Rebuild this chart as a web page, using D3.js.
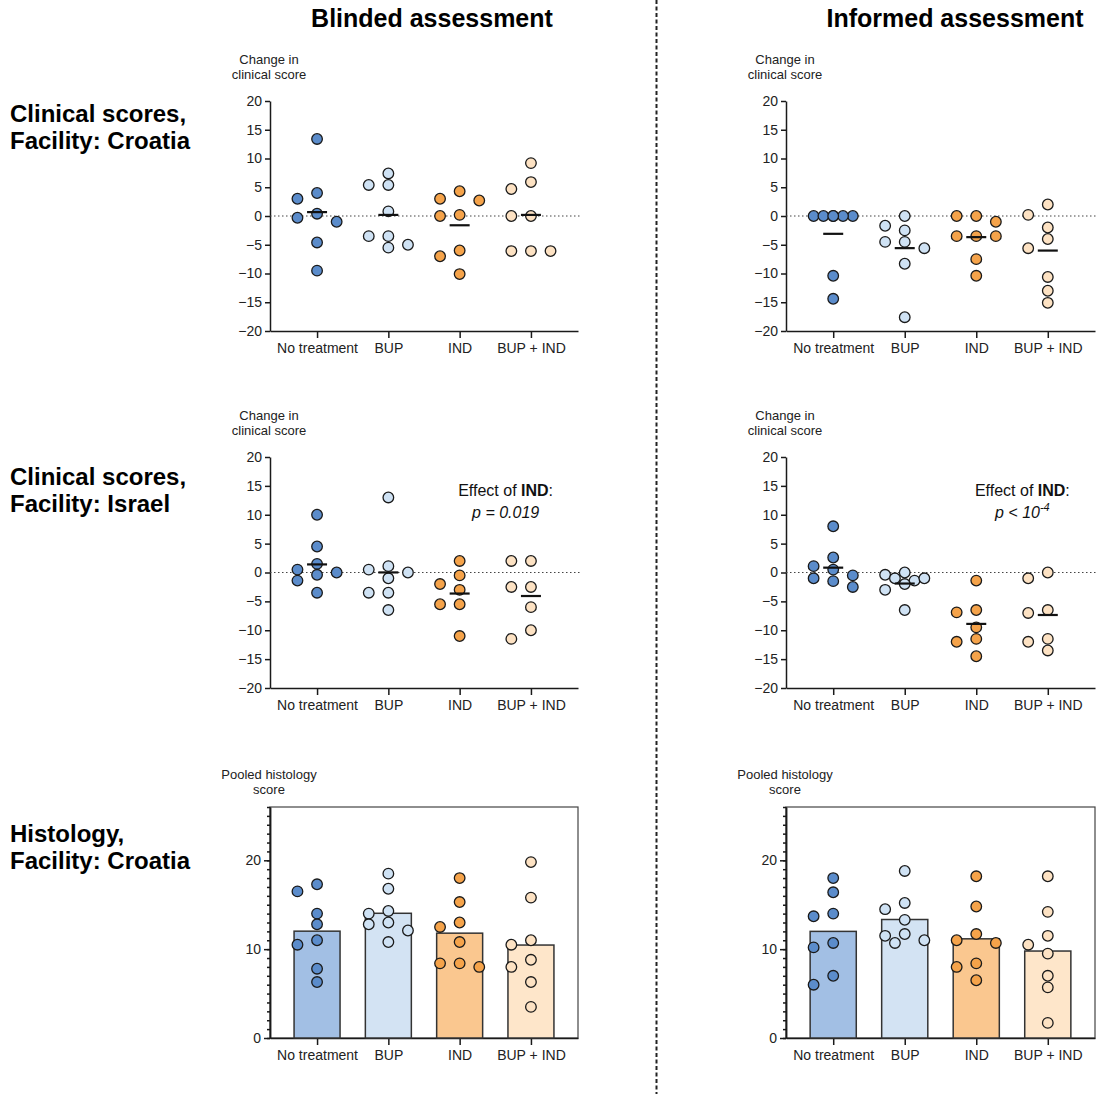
<!DOCTYPE html>
<html lang="en">
<head>
  <meta charset="UTF-8" />
  <title>Clinical and histology scores</title>
  <script src="https://d3js.org/d3.v7.min.js"></script>
  <style>
    body { margin: 0; background: #fff; font-family: "Liberation Sans", Arial, sans-serif; }
    svg { display: block; }
    .axis path, .axis line { stroke: #1a1a1a; stroke-width: 1.5px; }
    .axis text { font-size: 14px; fill: #222; font-family: "Liberation Sans", Arial, sans-serif; }
    .dot { stroke: #1a1a1a; stroke-width: 1.3px; }
    .bar { stroke: #333; stroke-width: 1.5px; }
  </style>
</head>
<body>
  <svg id="chart"></svg>
  <script>
    // ---- data ----
    const groups = ["No treatment", "BUP", "IND", "BUP + IND"];
    const scoreTicks = [-20, -15, -10, -5, 0, 5, 10, 15, 20];
    const histTicks = [0, 10, 20];
    const colTitles = ["Blinded assessment", "Informed assessment"];
    const rowTitles = [
      ["Clinical scores,", "Facility: Croatia"],
      ["Clinical scores,", "Facility: Israel"],
      ["Histology,", "Facility: Croatia"]
    ];

    // change in clinical score, Croatia
    const croatiaBlinded = [
      [-0.3, 13.4, 3.0, 0.4, 4.0, -1.0, -4.6, -9.5],
      [7.4, 5.4, 5.4, 0.8, -3.5, -5.5, -3.5, -5.0],
      [3.0, 2.7, 4.3, 0.2, 0, -7.0, -6.0, -10.1],
      [9.2, 4.7, 5.9, 0, 0, -6.1, -6.1, -6.1]
    ];
    const croatiaInformed = [
      [0, 0, 0, 0, 0, 0, -10.4, -14.4],
      [0, -2.5, -1.7, -4.5, -4.5, -5.6, -8.3, -17.6],
      [0, 0, -1.0, -3.5, -3.5, -3.5, -7.5, -10.4],
      [2.0, 0.2, -2.0, -4.0, -5.6, -10.6, -13.0, -15.1]
    ];
    // change in clinical score, Israel
    const israelBlinded = [
      [0, 10.0, 4.5, 0.5, 1.5, -0.4, -1.4, -3.5],
      [13.0, 0, 1.1, -1.0, 0.5, -3.5, -3.5, -6.5],
      [2.0, -0.5, -2.0, -3.0, -5.5, -5.5, -11.0],
      [2.0, 2.0, -2.5, -2.5, -6.0, -10.0, -11.5]
    ];
    const israelInformed = [
      [-0.5, -2.5, 8.0, 1.1, -1.0, 2.6, 0.5, -1.5],
      [-1.4, -0.4, -1.0, 0, -1.0, -3.0, -2.0, -6.5],
      [-1.4, -6.9, -6.5, -9.5, -11.5, -12.0, -14.5],
      [-1.0, 0, -7.0, -6.5, -11.5, -12.0, -13.5]
    ];
    // pooled histology score, Croatia
    const histBlinded = [
      [16.5, 17.3, 14.0, 12.8, 10.5, 11.0, 7.8, 6.3],
      [18.5, 16.8, 14.3, 13.0, 14.0, 12.1, 12.8, 10.8],
      [18.0, 15.3, 12.5, 13.0, 10.8, 8.0, 8.4, 8.4],
      [19.8, 15.8, 10.5, 11.0, 8.0, 8.8, 6.3, 3.5]
    ];
    const histInformed = [
      [18.0, 16.4, 13.7, 14.0, 10.2, 10.7, 7.0, 6.0],
      [18.8, 15.2, 14.5, 13.3, 11.7, 10.7, 11.0, 11.5],
      [18.2, 14.8, 11.7, 10.7, 11.0, 8.4, 8.0, 6.5],
      [18.2, 14.2, 10.5, 11.5, 9.5, 7.0, 5.7, 1.7]
    ];

    const dotFill = ["#5b8ccb", "#cfe2f4", "#f5a34a", "#fde2c3"];
    const barFill = ["#a2bfe4", "#d3e3f3", "#fac78f", "#fee6ca"];

    // ---- layout ----
    const width = 1097, height = 1094;
    const svg = d3.select("#chart").attr("width", width).attr("height", height);

    const cols = [{ x0: 270, x1: 578, mid: 432 }, { x0: 786, x1: 1095, mid: 955 }];
    const rows = [{ top: 101, bottom: 331 }, { top: 457, bottom: 688 }, { top: 807, bottom: 1038 }];

    // header texts
    colTitles.forEach((t, i) => {
      svg.append("text").attr("x", cols[i].mid).attr("y", 27)
        .attr("text-anchor", "middle").attr("font-size", 25).attr("font-weight", "bold")
        .text(t);
    });
    rowTitles.forEach((lines, i) => {
      const base = [122, 485, 842][i];
      lines.forEach((l, j) => {
        svg.append("text").attr("x", 10).attr("y", base + j * 27)
          .attr("font-size", 24).attr("font-weight", "bold").text(l);
      });
    });

    // dashed divider
    svg.append("line").attr("x1", 656.5).attr("x2", 656.5).attr("y1", 0).attr("y2", height)
      .attr("stroke", "#222").attr("stroke-width", 2).attr("stroke-dasharray", "4,2.5");

    // simple swarm: slot offsets around the category centre, wide slots first
    function swarm(vals, y) {
      const s = 9.8, D = 10.5, slots = [0, -2, 2, -1, 1];
      const order = d3.range(vals.length).sort((a, b) => vals[b] - vals[a]);
      const placed = [], off = new Array(vals.length);
      order.forEach(i => {
        const py = y(vals[i]);
        let best = 0, bestD = -1;
        for (const k of slots) {
          const px = k * s;
          const dmin = placed.length ? d3.min(placed, p => Math.hypot(p.x - px, p.y - py)) : Infinity;
          if (dmin >= D) { best = px; break; }
          if (dmin > bestD + 0.01) { bestD = dmin; best = px; }
        }
        off[i] = best;
        placed.push({ x: best, y: py });
      });
      return off;
    }

    function axisTitle(col, row, lines, gap) {
      lines.forEach((l, j) => {
        svg.append("text").attr("x", col.x0 - 1).attr("y", row.top - gap + j * 15)
          .attr("text-anchor", "middle").attr("font-size", 13).attr("fill", "#222").text(l);
      });
    }

    function drawDots(g, data, x, y) {
      data.forEach((vals, gi) => {
        const off = swarm(vals, y);
        g.selectAll(null).data(vals).join("circle")
          .attr("class", "dot")
          .attr("cx", (d, i) => x(groups[gi]) + off[i])
          .attr("cy", d => y(d))
          .attr("r", 5.3)
          .attr("fill", dotFill[gi]);
      });
    }

    function scatterPanel(col, row, data, note) {
      const g = svg.append("g");
      const x = d3.scalePoint().domain(groups).range([col.x0, col.x1]).padding(0.66);
      const y = d3.scaleLinear().domain([-20, 20]).range([row.bottom, row.top]);

      g.append("g").attr("class", "axis").attr("transform", `translate(${col.x0},0)`)
        .call(d3.axisLeft(y).tickValues(scoreTicks).tickSize(5).tickPadding(3).tickSizeOuter(0));
      g.append("g").attr("class", "axis").attr("transform", `translate(0,${row.bottom})`)
        .call(d3.axisBottom(x).tickSize(7).tickPadding(5).tickSizeOuter(0));

      g.append("line").attr("x1", col.x0).attr("x2", col.x1 + 2)
        .attr("y1", y(0)).attr("y2", y(0))
        .attr("stroke", "#444").attr("stroke-width", 1.2).attr("stroke-dasharray", "1.5,2.5");

      drawDots(g, data, x, y);

      data.forEach((vals, gi) => {
        const m = d3.mean(vals);
        g.append("line").attr("x1", x(groups[gi]) - 10).attr("x2", x(groups[gi]) + 10)
          .attr("y1", y(m)).attr("y2", y(m)).attr("stroke", "#111").attr("stroke-width", 2.2);
      });

      axisTitle(col, row, ["Change in", "clinical score"], 37);

      if (note) {
        const cx = col.x0 + (col.x1 - col.x0) * 0.765;
        const t1 = g.append("text").attr("x", cx).attr("y", row.top + 39)
          .attr("text-anchor", "middle").attr("font-size", 16).attr("fill", "#111");
        t1.append("tspan").text("Effect of ");
        t1.append("tspan").attr("font-weight", "bold").text("IND");
        t1.append("tspan").text(":");
        const t2 = g.append("text").attr("x", cx).attr("y", row.top + 61)
          .attr("text-anchor", "middle").attr("font-size", 16).attr("font-style", "italic").attr("fill", "#111");
        t2.append("tspan").text(note[0]);
        if (note[1]) {
          t2.append("tspan").attr("dy", -7).attr("font-size", 11).text(note[1]);
        }
      }
    }

    function histPanel(col, row, data) {
      const g = svg.append("g");
      const x = d3.scalePoint().domain(groups).range([col.x0, col.x1]).padding(0.66);
      const y = d3.scaleLinear().domain([0, 26]).range([row.bottom, row.top]);
      const bw = x.step() * 0.645;

      g.append("rect").attr("x", col.x0).attr("y", row.top)
        .attr("width", col.x1 - col.x0).attr("height", row.bottom - row.top)
        .attr("fill", "none").attr("stroke", "#444").attr("stroke-width", 1.2);

      g.append("g").attr("class", "axis").attr("transform", `translate(${col.x0},0)`)
        .call(d3.axisLeft(y).tickValues(d3.range(0, 27)).tickSize(3).tickFormat("").tickSizeOuter(0));
      g.append("g").attr("class", "axis").attr("transform", `translate(${col.x0},0)`)
        .call(d3.axisLeft(y).tickValues(histTicks).tickSize(6).tickPadding(3).tickSizeOuter(0));
      g.append("g").attr("class", "axis").attr("transform", `translate(0,${row.bottom})`)
        .call(d3.axisBottom(x).tickSize(7).tickPadding(5).tickSizeOuter(0));

      g.selectAll(null).data(data).join("rect")
        .attr("class", "bar")
        .attr("x", (d, i) => x(groups[i]) - bw / 2)
        .attr("y", d => y(d3.mean(d)))
        .attr("width", bw)
        .attr("height", d => y(0) - y(d3.mean(d)))
        .attr("fill", (d, i) => barFill[i]);

      drawDots(g, data, x, y);
      axisTitle(col, row, ["Pooled histology", "score"], 28);
    }

    scatterPanel(cols[0], rows[0], croatiaBlinded);
    scatterPanel(cols[1], rows[0], croatiaInformed);
    scatterPanel(cols[0], rows[1], israelBlinded, ["p = 0.019"]);
    scatterPanel(cols[1], rows[1], israelInformed, ["p < 10", "-4"]);
    histPanel(cols[0], rows[2], histBlinded);
    histPanel(cols[1], rows[2], histInformed);
  </script>
</body>
</html>
